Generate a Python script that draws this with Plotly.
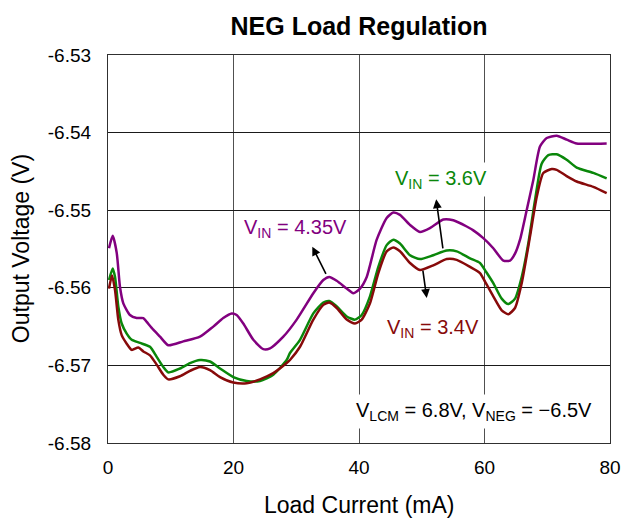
import plotly.graph_objects as go

# ---- data ----
x_435 = [0.16, 0.75, 1.39, 1.91, 2.44, 3.5, 4.57, 5.63, 6.17, 7.22, 8.29, 9.61, 12.0, 14.66, 16.78, 18.37, 19.71, 20.5,
         21.56, 23.16, 24.75, 25.82, 27.94, 30.07, 32.72, 34.31, 35.27, 36.45, 38.04, 39.09, 40.16, 41.23, 42.82,
         44.41, 45.47, 46.53, 48.13, 49.72, 51.31, 53.43, 55.03, 57.16, 58.22, 59.81, 61.4, 63.0, 64.06, 64.86,
         65.66, 66.72, 67.78, 68.84, 69.91, 71.5, 73.09, 74.69, 79.47]
v_435 = [-6.5549, -6.5533, -6.5555, -6.5599, -6.5620, -6.5635, -6.5639, -6.5639, -6.5644, -6.5654, -6.5663, -6.5674,
         -6.5669, -6.5663, -6.5650, -6.5639, -6.5633, -6.5635, -6.5646, -6.5667, -6.5679, -6.5678, -6.5663, -6.5641,
         -6.5607, -6.5590, -6.5586, -6.5591, -6.5601, -6.5607, -6.5601, -6.5586, -6.5538, -6.5510, -6.5503, -6.5506,
         -6.5519, -6.5528, -6.5523, -6.5512, -6.5513, -6.5521, -6.5526, -6.5536, -6.5549, -6.5565, -6.5565, -6.5556,
         -6.5538, -6.5500, -6.5461, -6.5418, -6.5407, -6.5404, -6.5409, -6.5414, -6.5414]

x_36 = [0.16, 0.75, 1.12, 1.64, 2.18, 2.98, 3.78, 5.1, 6.69, 7.76, 8.81, 9.61, 11.47, 13.07, 14.66, 16.25, 17.85,
        19.97, 22.1, 24.22, 26.34, 28.47, 29.0, 30.6, 32.72, 34.31, 35.27, 36.45, 38.04, 39.36, 40.43, 41.75, 43.08,
        44.41, 45.47, 46.53, 48.13, 49.72, 51.84, 53.98, 55.57, 57.69, 59.28, 60.3, 61.4, 62.74, 63.79, 64.86, 65.93,
        66.98, 68.05, 69.11, 70.17, 71.5, 73.09, 74.69, 77.34, 79.47]
v_36 = [-6.5590, -6.5575, -6.5586, -6.5624, -6.5646, -6.5659, -6.5667, -6.5671, -6.5676, -6.5689, -6.5702, -6.5709,
        -6.5704, -6.5697, -6.5693, -6.5695, -6.5704, -6.5715, -6.5720, -6.5720, -6.5712, -6.5693, -6.5684, -6.5667,
        -6.5633, -6.5619, -6.5617, -6.5624, -6.5637, -6.5641, -6.5635, -6.5611, -6.5573, -6.5545, -6.5538, -6.5543,
        -6.5558, -6.5563, -6.5558, -6.5552, -6.5553, -6.5562, -6.5568, -6.5580, -6.5594, -6.5614, -6.5621, -6.5614,
        -6.5586, -6.5543, -6.5487, -6.5440, -6.5429, -6.5428, -6.5435, -6.5445, -6.5452, -6.5459]

x_34 = [0.16, 0.64, 1.12, 1.64, 2.18, 2.98, 3.78, 4.83, 5.63, 6.69, 7.76, 8.81, 9.61, 11.47, 13.07, 14.66, 16.25,
        17.85, 19.97, 22.1, 24.22, 26.34, 28.47, 29.0, 30.6, 32.72, 34.31, 35.27, 36.45, 38.04, 39.36, 40.43, 41.75,
        43.08, 44.41, 45.47, 46.53, 48.13, 49.72, 51.84, 53.98, 55.57, 57.69, 59.28, 60.08, 61.4, 62.74, 63.79,
        64.86, 65.93, 67.25, 68.32, 69.37, 70.71, 71.5, 73.09, 74.69, 77.34, 79.47]
v_34 = [-6.5601, -6.5584, -6.5603, -6.5641, -6.5661, -6.5672, -6.5680, -6.5677, -6.5682, -6.5687, -6.5699, -6.5712,
        -6.5718, -6.5714, -6.5707, -6.5702, -6.5706, -6.5715, -6.5722, -6.5723, -6.5718, -6.5710, -6.5697, -6.5693,
        -6.5676, -6.5641, -6.5622, -6.5619, -6.5626, -6.5641, -6.5646, -6.5641, -6.5620, -6.5581, -6.5553, -6.5548,
        -6.5553, -6.5568, -6.5577, -6.5571, -6.5563, -6.5564, -6.5573, -6.5581, -6.5592, -6.5611, -6.5629, -6.5634,
        -6.5626, -6.5594, -6.5534, -6.5483, -6.5452, -6.5447, -6.5448, -6.5456, -6.5463, -6.5470, -6.5478]

x_tickvals = [0, 20, 40, 60, 80]
x_ticktext = ["0", "20", "40", "60", "80"]
y_tickvals = [-6.53, -6.54, -6.55, -6.56, -6.57, -6.58]
y_ticktext = ["-6.53", "-6.54", "-6.55", "-6.56", "-6.57", "-6.58"]

FONT = "Liberation Sans, Arial, sans-serif"
C_PURPLE = "#82007f"
C_GREEN = "#0a870a"
C_RED = "#870a0a"

fig = go.Figure()
for xs, vs, col in [(x_435, v_435, C_PURPLE), (x_36, v_36, C_GREEN), (x_34, v_34, C_RED)]:
    fig.add_trace(go.Scatter(x=xs, y=vs, mode="lines",
                             line=dict(color=col, width=2.5, shape="spline", smoothing=0.6),
                             showlegend=False, hoverinfo="skip"))

annos = []
# labels with white boxes (hide gridlines behind them)
for txt, ax_, ay_, col in [
    ("V<sub>IN</sub> = 4.35V", 29.9, -6.5524, C_PURPLE),
    ("V<sub>IN</sub> = 3.6V", 53.0, -6.5460, C_GREEN),
    ("V<sub>IN</sub> = 3.4V", 51.8, -6.5653, C_RED),
    ("V<sub>LCM</sub> = 6.8V, V<sub>NEG</sub> = \u22126.5V", 58.4, -6.5760, "#000000"),
]:
    annos.append(dict(x=ax_, y=ay_, xref="x", yref="y", text=txt, showarrow=False,
                      font=dict(family=FONT, size=20, color=col),
                      bgcolor="white", borderpad=4))
# arrows (head at x,y ; tail at ax,ay)
for hx, hy, tx, ty in [(32.56, -6.5547, 34.85, -6.5584),
                       (52.3, -6.5486, 53.4, -6.5551),
                       (50.79, -6.5613, 50.15, -6.5576)]:
    annos.append(dict(x=hx, y=hy, ax=tx, ay=ty, xref="x", yref="y", axref="x", ayref="y",
                      text="", showarrow=True, arrowhead=2, arrowsize=1.1, arrowwidth=1.6,
                      arrowcolor="black", standoff=0, startstandoff=0))
# axis titles
annos.append(dict(x=-0.173, y=0.5, xref="paper", yref="paper", text="Output Voltage (V)", textangle=-90,
                  showarrow=False, font=dict(family=FONT, size=23, color="black"),
                  xanchor="center", yanchor="middle"))
annos.append(dict(x=0.5, y=-0.16, xref="paper", yref="paper", text="Load Current (mA)",
                  showarrow=False, font=dict(family=FONT, size=23, color="black"),
                  xanchor="center", yanchor="middle"))

# page body has an 8px margin, so the figure is 8px smaller and margins compensate
fig.update_layout(
    width=630, height=513,
    margin=dict(l=100, r=28, t=47, b=78),
    paper_bgcolor="white", plot_bgcolor="white",
    title=dict(text="<b>NEG Load Regulation</b>", x=0.5, xref="paper", xanchor="center",
               y=0.965, yref="container", yanchor="middle",
               font=dict(family=FONT, size=25, color="black")),
    annotations=annos,
    font=dict(family=FONT, color="black"),
)
fig.update_xaxes(range=[0, 80], tickvals=x_tickvals, ticktext=x_ticktext, showgrid=True,
                 gridcolor="#505050", gridwidth=1, showline=True, linecolor="#303030", linewidth=1.2,
                 mirror=True, ticks="", zeroline=False, ticklabelstandoff=7,
                 tickfont=dict(family=FONT, size=19, color="black"))
fig.update_yaxes(range=[-6.58, -6.53], tickvals=y_tickvals, ticktext=y_ticktext, showgrid=True,
                 gridcolor="#1a1a1a", gridwidth=1, showline=True, linecolor="#303030", linewidth=1.2,
                 mirror=True, ticks="", zeroline=False, ticklabelstandoff=12,
                 tickfont=dict(family=FONT, size=19, color="black"))

fig.write_html("out.html")
